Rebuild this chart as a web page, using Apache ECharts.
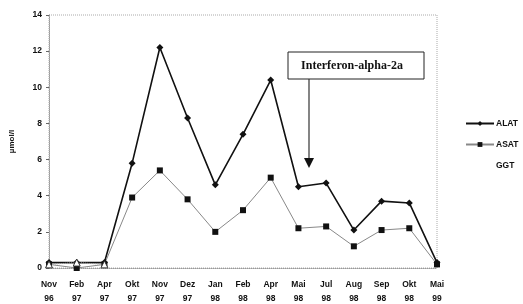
<!DOCTYPE html>
<html><head><meta charset="utf-8">
<script src="https://cdn.jsdelivr.net/npm/echarts@6/dist/echarts.min.js"></script>
<style>html,body{margin:0;padding:0;background:#fff}#c{width:523px;height:304px}</style>
</head><body><div id="c"></div>
<script>
const categories = ['Nov\n96','Feb\n97','Apr\n97','Okt\n97','Nov\n97','Dez\n97','Jan\n98','Feb\n98','Apr\n98','Mai\n98','Jul\n98','Aug\n98','Sep\n98','Okt\n98','Mai\n99'];
const alat = [0.3,0.3,0.3,5.8,12.2,8.3,4.6,7.4,10.4,4.5,4.7,2.1,3.7,3.6,0.3];
const asat = [0.2,0.0,0.2,3.9,5.4,3.8,2.0,3.2,5.0,2.2,2.3,1.2,2.1,2.2,0.2];
const ggt  = [0.2,0.3,0.2,null,null,null,null,null,null,null,null,null,null,null,null];
const yTicks = [0,2,4,6,8,10,12,14];

const chart = echarts.init(document.getElementById('c'));
const font = 'Liberation Sans, Arial, sans-serif';
chart.setOption({
  animation:false,
  grid:{left:49,right:86,top:15,bottom:36,outerBoundsMode:'none',containLabel:false,show:true,borderColor:'#aaa',borderWidth:1,borderType:'dotted'},
  xAxis:{type:'category',data:categories,boundaryGap:false,
    axisLine:{lineStyle:{color:'#999',type:'dotted'}},axisTick:{show:false},
    axisLabel:{color:'#111',fontFamily:font,fontWeight:'bold',fontSize:8.5,lineHeight:14,margin:10,interval:0}},
  yAxis:{type:'value',min:0,max:14,interval:2,
    name:'µmol/l',nameLocation:'middle',nameGap:33,nameRotate:90,
    nameTextStyle:{color:'#111',fontFamily:font,fontWeight:'bold',fontSize:8},
    axisLine:{show:true,lineStyle:{color:'#999',type:'dotted'}},
    axisTick:{show:true,length:3,lineStyle:{color:'#666'}},
    splitLine:{show:false},
    axisLabel:{color:'#111',fontFamily:font,fontWeight:'bold',fontSize:8.5,margin:7,
      formatter:v=>yTicks.includes(v)?String(v):''}},
  legend:{orient:'vertical',left:465,top:119,padding:0,itemWidth:28,itemHeight:6,itemGap:12,
    textStyle:{color:'#111',fontFamily:font,fontSize:8.5,fontWeight:'bold',padding:[0,0,0,-3]},
    data:[{name:'ALAT'},{name:'ASAT'},{name:'GGT',icon:'none'}]},
  series:[
    {name:'ALAT',type:'line',data:alat,symbol:'diamond',symbolSize:7,
      lineStyle:{color:'#111',width:1.6},itemStyle:{color:'#111'}},
    {name:'ASAT',type:'line',data:asat,symbol:'rect',symbolSize:6,
      lineStyle:{color:'#888',width:1},itemStyle:{color:'#111'}},
    {name:'GGT',type:'line',data:ggt,symbol:'triangle',symbolSize:7,
      lineStyle:{color:'#aaa',width:1,type:'dotted'},itemStyle:{color:'#fff',borderColor:'#333',borderWidth:1}}
  ],
  graphic:[
    {type:'rect',shape:{x:288,y:52,width:136,height:27},style:{fill:'#fff',stroke:'#222',lineWidth:1}},
    {type:'text',x:352,y:66,style:{text:'Interferon-alpha-2a',fill:'#111',font:'bold 12px "Liberation Serif", "Times New Roman", serif',align:'center',verticalAlign:'middle'}},
    {type:'line',shape:{x1:309,y1:79,x2:309,y2:160},style:{stroke:'#333',lineWidth:1.2}},
    {type:'polygon',shape:{points:[[304,158],[314,158],[309,168]]},style:{fill:'#111'}}
  ]
});
</script></body></html>
